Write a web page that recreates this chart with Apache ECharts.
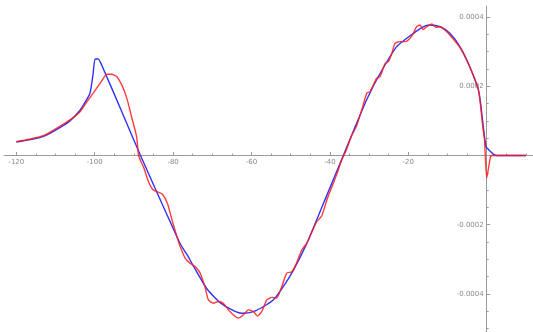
<!DOCTYPE html>
<html>
<head>
<meta charset="utf-8">
<script src="https://cdn.jsdelivr.net/npm/echarts@6/dist/echarts.min.js"></script>
<style>
html,body{margin:0;padding:0;background:#fff;}
#chart{width:533px;height:332px;}
</style>
</head>
<body>
<div id="chart"></div>
<script>
// Blue series
var blueX = [-120, -116.7, -112.9, -109, -106.3, -103.8, -102.4, -101.2, -100.4, -99.9, -99.1, -98.2, -93, -88.4, -83, -80, -78.2, -76, -74.8, -71.4, -68, -64.6, -62.1, -59.5, -57, -54.4, -51.9, -49.3, -45.9, -42, -38, -34, -30.6, -27.2, -23, -18.7, -16.2, -14.5, -11.9, -9.4, -6.8, -4.3, -2.1, -1.6, -0.87, -0.18, 0.4, 1.7, 2.55, 10];
var blueY = [3.9e-5, 4.5e-5, 5.6e-5, 8.0e-5, 1.0e-4, 1.3e-4, 1.55e-4, 1.8e-4, 2.37e-4, 2.79e-4, 2.79e-4, 2.61e-4, 1.24e-4, 2e-6, -1.35e-4, -2.1e-4, -2.55e-4, -2.95e-4, -3.2e-4, -3.85e-4, -4.25e-4, -4.48e-4, -4.56e-4, -4.51e-4, -4.37e-4, -4.17e-4, -3.79e-4, -3.31e-4, -2.54e-4, -1.48e-4, -3.9e-5, 7.1e-5, 1.62e-4, 2.37e-4, 3.14e-4, 3.53e-4, 3.72e-4, 3.77e-4, 3.72e-4, 3.53e-4, 3.14e-4, 2.56e-4, 1.89e-4, 1.55e-4, 8.3e-5, 2.5e-5, 1.8e-5, 4e-6, 0, 0];
// Red series
var redX = [-120, -116.7, -112.9, -108.8, -106.3, -103.8, -102, -100.4, -98.6, -96.9, -95.7, -94.4, -93.1, -91.8, -90.6, -89.3, -88.8, -87.5, -86.3, -85.2, -84, -82.7, -81.4, -80.2, -79, -78.2, -76.9, -75.7, -74.4, -73.1, -71.9, -71, -69.7, -68.5, -67.2, -65.9, -64.6, -63.4, -62.1, -60.8, -59.5, -58.5, -57.4, -56.1, -54.8, -53.6, -52.3, -51, -49.7, -48.5, -47.2, -45.9, -44.6, -43.4, -42.1, -40.8, -39.6, -38.3, -37, -35.8, -34.5, -33.2, -31.9, -30.6, -29.8, -28.9, -28.1, -27.2, -26.4, -25.9, -25.1, -24.2, -23.4, -22.1, -20.8, -19.6, -18.7, -17.9, -17, -16.2, -15.3, -14, -12.9, -11.9, -10.6, -9.4, -6.8, -4.3, -2.1, -1, -0.56, 0, 0.6, 1, 1.5, 10];
var redY = [4.0e-5, 4.7e-5, 5.8e-5, 8.5e-5, 1.03e-4, 1.26e-4, 1.55e-4, 1.8e-4, 2.09e-4, 2.35e-4, 2.35e-4, 2.28e-4, 2.04e-4, 1.65e-4, 1.12e-4, 5.4e-5, 0, -3.5e-5, -7.5e-5, -9.8e-5, -1.05e-4, -1.12e-4, -1.4e-4, -1.9e-4, -2.35e-4, -2.63e-4, -2.97e-4, -3.11e-4, -3.21e-4, -3.4e-4, -3.79e-4, -4.17e-4, -4.27e-4, -4.22e-4, -4.27e-4, -4.46e-4, -4.61e-4, -4.7e-4, -4.61e-4, -4.46e-4, -4.51e-4, -4.64e-4, -4.51e-4, -4.17e-4, -4.1e-4, -4.12e-4, -3.79e-4, -3.4e-4, -3.36e-4, -3.11e-4, -2.73e-4, -2.54e-4, -2.21e-4, -1.92e-4, -1.75e-4, -1.29e-4, -9.4e-5, -5.6e-5, -1.3e-5, 1.6e-5, 5.6e-5, 8.5e-5, 1.31e-4, 1.8e-4, 1.84e-4, 2.04e-4, 2.23e-4, 2.28e-4, 2.52e-4, 2.66e-4, 2.71e-4, 2.95e-4, 3.24e-4, 3.29e-4, 3.29e-4, 3.38e-4, 3.53e-4, 3.72e-4, 3.77e-4, 3.64e-4, 3.72e-4, 3.8e-4, 3.7e-4, 3.72e-4, 3.62e-4, 3.48e-4, 3.12e-4, 2.56e-4, 1.89e-4, 8.3e-5, 4.5e-5, -6.6e-5, -2.7e-5, -3e-6, 0, 0];
// Tick labels
var xMajorTicks = [-120, -100, -80, -60, -40, -20];
var xMinorTicks = [-115, -110, -105, -95, -90, -85, -75, -70, -65, -55, -50, -45, -35, -30, -25, -15, -10, -5, 5, 10];
var yMajorTicks = [-0.0004, -0.0002, 0.0002, 0.0004];
var yMinorTicks = [-0.0005, -0.00045, -0.00035, -0.0003, -0.00025, -0.00015, -0.0001, -0.00005, 0.00005, 0.0001, 0.00015, 0.00025, 0.0003, 0.00035];

function zip(a, b) { return a.map(function (v, i) { return [v, b[i]]; }); }

var W = 533, H = 332;
var GL = 4, GT = 6;
var XMIN = -123.14, XMAX = 11.81, YMIN = -0.00051, YMAX = 0.000432;
// axis crossing offsets (pixel position of the zero lines relative to grid edges)
var zeroXpx = GL + (0 - XMIN) / (XMAX - XMIN) * (W - GL);
var zeroYpx = GT + (YMAX - 0) / (YMAX - YMIN) * (H - GT);
var xOff = zeroYpx - H;        // negative: move bottom axis up
var yOff = GL - zeroXpx;       // negative: move left axis right

var axisCol = '#9a9a9a';
var labelStyle = { color: '#8a8a8a', fontSize: 7, fontFamily: 'DejaVu Sans' };

var chart = echarts.init(document.getElementById('chart'), null, { renderer: 'canvas' });
chart.setOption({
  animation: false,
  grid: { left: GL, right: 0, top: GT, bottom: 0, containLabel: false, outerBoundsMode: 'none' },
  xAxis: [{
    type: 'value', min: XMIN, max: XMAX, splitLine: { show: false }, position: 'bottom', offset: xOff,
    axisLine: { onZero: false, lineStyle: { color: axisCol, width: 1 } },
    axisTick: { show: true, inside: true, length: 3.5, customValues: xMajorTicks, lineStyle: { color: axisCol } },
    axisLabel: Object.assign({ customValues: xMajorTicks, margin: 3, formatter: function (v) { return String(v); } }, labelStyle)
  }, {
    type: 'value', min: XMIN, max: XMAX, splitLine: { show: false }, position: 'bottom', offset: xOff,
    axisLine: { onZero: false, show: false },
    axisTick: { show: true, inside: true, length: 2, customValues: xMinorTicks, lineStyle: { color: axisCol } },
    axisLabel: { show: false }
  }],
  yAxis: [{
    type: 'value', min: YMIN, max: YMAX, splitLine: { show: false }, position: 'left', offset: yOff,
    axisLine: { onZero: false, lineStyle: { color: axisCol, width: 1 } },
    axisTick: { show: true, inside: true, length: 3.5, customValues: yMajorTicks, lineStyle: { color: axisCol } },
    axisLabel: Object.assign({ customValues: yMajorTicks, margin: 3, formatter: function (v) { return v.toFixed(4); } }, labelStyle)
  }, {
    type: 'value', min: YMIN, max: YMAX, splitLine: { show: false }, position: 'left', offset: yOff,
    axisLine: { onZero: false, show: false },
    axisTick: { show: true, inside: true, length: 2, customValues: yMinorTicks, lineStyle: { color: axisCol } },
    axisLabel: { show: false }
  }],
  series: [{
    type: 'line', xAxisIndex: 0, yAxisIndex: 0, data: zip(blueX, blueY),
    showSymbol: false, smooth: 0.2, clip: false,
    lineStyle: { color: '#1a1aff', width: 1.4, opacity: 0.9 }
  }, {
    type: 'line', xAxisIndex: 0, yAxisIndex: 0, data: zip(redX, redY),
    showSymbol: false, smooth: 0.2, clip: false,
    lineStyle: { color: '#ff1a1a', width: 1.4, opacity: 0.85 }
  }]
});
</script>
</body>
</html>
